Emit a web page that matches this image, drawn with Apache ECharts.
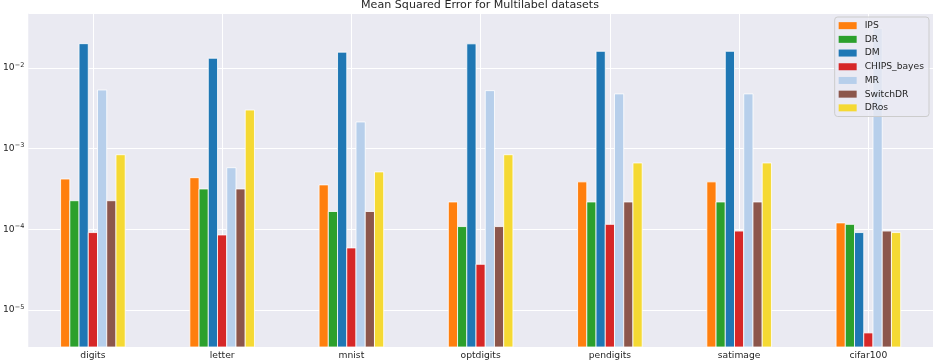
<!DOCTYPE html>
<html>
<head>
<meta charset="utf-8">
<script src="https://cdn.jsdelivr.net/npm/echarts@6/dist/echarts.min.js"></script>
<style>
	html, body { margin: 0; padding: 0; background: #ffffff; }
	#main { width: 934px; height: 362px; }
</style>
</head>
<body>
<div id="main"></div>
<script>
// datasets on the x axis
var datasets = ['digits', 'letter', 'mnist', 'optdigits', 'pendigits', 'satimage', 'cifar100'];
// method names, legend order
var methods = ['IPS', 'DR', 'DM', 'CHIPS_bayes', 'MR', 'SwitchDR', 'DRos'];
var colors = ['#ff7f0e', '#2ca02c', '#1f77b4', '#d62728', '#b7cfeb', '#8c564b', '#f5d933'];

// MSE per method, one value per dataset
var ips = [4.2e-4, 4.36e-4, 3.55e-4, 2.18e-4, 3.87e-4, 3.87e-4, 1.2e-4];
var dr = [2.26e-4, 3.16e-4, 1.66e-4, 1.08e-4, 2.18e-4, 2.18e-4, 1.15e-4];
var dm = [2.0e-2, 1.32e-2, 1.57e-2, 1.99e-2, 1.61e-2, 1.61e-2, 9.1e-5];
var chipsBayes = [9.1e-5, 8.5e-5, 5.87e-5, 3.68e-5, 1.15e-4, 9.5e-5, 5.19e-6];
var mr = [5.33e-3, 5.8e-4, 2.14e-3, 5.23e-3, 4.77e-3, 4.77e-3, 3.1e-2];
var switchDr = [2.26e-4, 3.16e-4, 1.66e-4, 1.08e-4, 2.18e-4, 2.18e-4, 9.5e-5];
var dros = [8.4e-4, 3.01e-3, 5.14e-4, 8.4e-4, 6.64e-4, 6.64e-4, 9.1e-5];
var values = [ips, dr, dm, chipsBayes, mr, switchDr, dros];

// y range of the axes (log)
var yMin = 3.47e-6;
var yMax = 0.048;

var textColor = '#262626';
var font = 'DejaVu Sans';
var groupFrac = 0.5; // share of the category band used by a group of bars

var myChart = echarts.init(document.getElementById('main'), null, { renderer: 'canvas' });

// bars on a log axis start at 1 in echarts, so draw them as custom rects
// from the bottom of the axis (yMin) up to the value
function makeRender(k) {
	return function(params, api) {
		var idx = api.value(0);
		var val = api.value(1);
		var top = api.coord([idx, val]);
		var bottom = api.coord([idx, yMin]);
		var band = api.size([1, 0])[0];
		var groupW = band * groupFrac;
		var barW = groupW / methods.length;
		var x0 = top[0] - groupW / 2 + k * barW;
		var shape = echarts.graphic.clipRectByRect({
			x: x0,
			y: top[1],
			width: barW,
			height: bottom[1] - top[1]
		}, {
			x: params.coordSys.x,
			y: params.coordSys.y,
			width: params.coordSys.width,
			height: params.coordSys.height
		});
		return shape && {
			type: 'rect',
			shape: shape,
			style: {
				fill: colors[k],
				stroke: '#ffffff',
				lineWidth: 0.8
			}
		};
	};
}

var series = [];
for (var i = 0; i < methods.length; i++) {
	var d = [];
	for (var j = 0; j < datasets.length; j++) {
		d.push([j, values[i][j]]);
	}
	series.push({
		name: methods[i],
		type: 'custom',
		renderItem: makeRender(i),
		encode: { x: 0, y: 1 },
		itemStyle: { color: colors[i] },
		data: d
	});
}

var option = {
	animation: false,
	backgroundColor: '#ffffff',
	color: colors,
	title: {
		text: 'Mean Squared Error for Multilabel datasets',
		left: 480,
		textAlign: 'center',
		top: 0,
		padding: 0,
		textStyle: {
			fontFamily: font,
			fontSize: 11.1,
			fontWeight: 'normal',
			color: textColor
		}
	},
	legend: {
		orient: 'vertical',
		right: 5,
		top: 17,
		padding: [3, 5, 3, 4],
		itemWidth: 18,
		itemHeight: 7,
		itemGap: 2.4,
		icon: 'rect',
		backgroundColor: 'rgba(234,234,242,0.8)',
		borderColor: '#cccccc',
		borderWidth: 1,
		borderRadius: 3,
		textStyle: {
			fontFamily: font,
			fontSize: 9.2,
			lineHeight: 11.3,
			color: textColor,
			padding: [0, 0, 0, 3]
		},
		data: methods
	},
	grid: {
		left: 27,
		right: 1,
		top: 13,
		bottom: 15,
		show: true,
		backgroundColor: '#eaeaf2',
		borderWidth: 0,
		containLabel: false
	},
	xAxis: {
		type: 'category',
		data: datasets,
		axisLine: { show: false },
		axisTick: { show: false },
		axisLabel: {
			fontFamily: font,
			fontSize: 9.2,
			color: textColor,
			margin: 4
		},
		splitLine: {
			show: true,
			alignWithLabel: true,
			lineStyle: { color: '#ffffff', width: 1 }
		}
	},
	yAxis: {
		type: 'log',
		logBase: 10,
		min: yMin,
		max: yMax,
		axisLine: { show: false },
		axisTick: { show: false },
		splitLine: {
			show: true,
			lineStyle: { color: '#ffffff', width: 1 }
		},
		axisLabel: {
			margin: 4,
			formatter: function(v) {
				var e = Math.log10(v);
				var n = Math.round(e);
				if (Math.abs(e - n) > 1e-6) {
					return '';
				}
				return '{b|10}{s|\u2212' + Math.abs(n) + '}';
			},
			rich: {
				b: {
					fontFamily: font,
					fontSize: 9.2,
					color: textColor
				},
				s: {
					fontFamily: font,
					fontSize: 6.5,
					color: textColor,
					padding: [0, 0, 6, 0]
				}
			}
		}
	},
	series: series
};

myChart.setOption(option);
</script>
</body>
</html>
